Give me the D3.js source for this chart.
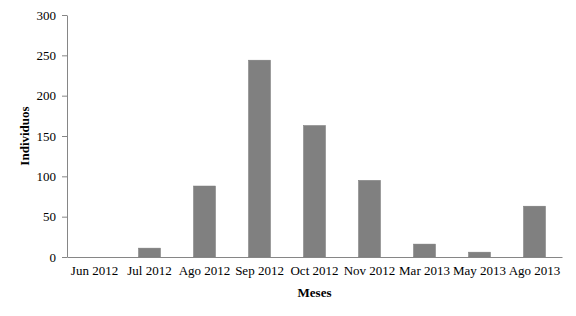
<!DOCTYPE html>
<html>
<head>
<meta charset="utf-8">
<script src="https://cdn.jsdelivr.net/npm/d3@7"></script>
<style>
  body { margin: 0; background: #fff; }
  text { font-family: "Liberation Serif", "Times New Roman", serif; }
</style>
</head>
<body>
<div id="chart"></div>
<script>
var meses = ["Jun 2012", "Jul 2012", "Ago 2012", "Sep 2012", "Oct 2012", "Nov 2012", "Mar 2013", "May 2013", "Ago 2013"];
var individuos = [0, 11, 88, 244, 163, 95, 16, 6, 63];
var yTicks = [0, 50, 100, 150, 200, 250, 300];

var margin = {top: 15, right: 14, bottom: 59, left: 67};
var width = 576 - margin.left - margin.right, height = 316 - margin.top - margin.bottom;

var svg = d3.select("#chart")
    .append("svg")
    .attr("width", 576)
    .attr("height", 316)
    .append("g")
    .attr("transform", "translate(" + margin.left + "," + margin.top + ")");

var x = d3.scaleBand()
    .domain(meses)
    .range([0, width])
    .paddingInner(0.6)
    .paddingOuter(0.3);

var y = d3.scaleLinear()
    .domain([0, 300])
    .range([height, 0]);

// bars
svg.append("g")
    .selectAll("rect")
    .data(individuos)
    .enter().append("rect")
    .attr("x", function(d, i) { return x(meses[i]); })
    .attr("y", function(d) { return y(d); })
    .attr("width", x.bandwidth())
    .attr("height", function(d) { return height - y(d); })
    .attr("fill", "#808080")
    .attr("stroke", "#7a7a7a")
    .attr("stroke-width", 0.5);

// Y axis
var yAxis = svg.append("g")
    .call(d3.axisLeft(y).tickValues(yTicks).tickSize(5).tickSizeOuter(0).tickPadding(6));
yAxis.selectAll("path, line").attr("stroke", "#868686");
yAxis.selectAll("text").style("font-size", "13px").attr("fill", "#000")
    .style("font-family", "'Liberation Serif', serif");

// X axis
var xAxis = svg.append("g")
    .attr("transform", "translate(0," + height + ")")
    .call(d3.axisBottom(x).tickSize(0).tickPadding(9));
xAxis.selectAll("path").attr("stroke", "#868686");
xAxis.selectAll("text").style("font-size", "13px").attr("fill", "#000")
    .style("font-family", "'Liberation Serif', serif");

// axis titles
svg.append("text")
    .attr("x", width / 2)
    .attr("y", height + 40)
    .attr("text-anchor", "middle")
    .style("font-size", "13px")
    .style("font-weight", "bold")
    .text("Meses");

svg.append("text")
    .attr("transform", "translate(" + (-38) + "," + (height / 2) + ") rotate(-90)")
    .attr("text-anchor", "middle")
    .style("font-size", "13px")
    .style("font-weight", "bold")
    .text("Individuos");
</script>
</body>
</html>
